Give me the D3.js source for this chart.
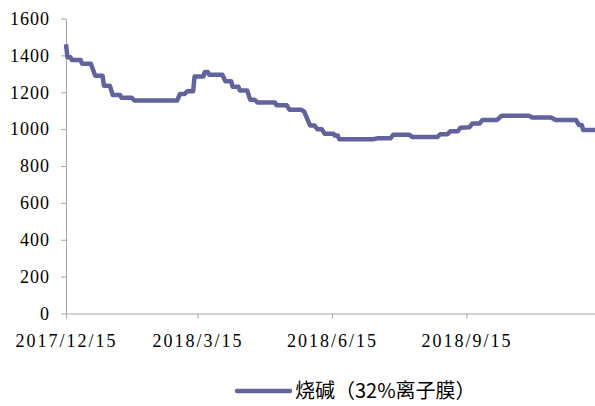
<!DOCTYPE html>
<html>
<head>
<meta charset="utf-8">
<script src="https://cdn.jsdelivr.net/npm/d3@7"></script>
<style>
  body { margin: 0; background: #fff; }
  .tick text { font-family: 'Liberation Serif', 'DejaVu Serif', serif; font-size: 18px; }
</style>
</head>
<body>
<div id="chart"></div>
<script>
// Series data (change points)
const dates = [
    '2017/12/15', '2017/12/16', '2017/12/18', '2017/12/19', '2017/12/25', '2017/12/26',
    '2018/1/1', '2018/1/4', '2018/1/9', '2018/1/10', '2018/1/14', '2018/1/16',
    '2018/1/21', '2018/1/22', '2018/1/29', '2018/1/31', '2018/3/1', '2018/3/3',
    '2018/3/6', '2018/3/8', '2018/3/12', '2018/3/13', '2018/3/19', '2018/3/20',
    '2018/3/22', '2018/3/23', '2018/4/1', '2018/4/3', '2018/4/7', '2018/4/8',
    '2018/4/12', '2018/4/13', '2018/4/18', '2018/4/20', '2018/4/23', '2018/4/25',
    '2018/5/7', '2018/5/8', '2018/5/15', '2018/5/17', '2018/5/25', '2018/5/27',
    '2018/5/31', '2018/6/3', '2018/6/5', '2018/6/8', '2018/6/10', '2018/6/16',
    '2018/6/17', '2018/6/19', '2018/6/20', '2018/7/13', '2018/7/16', '2018/7/25',
    '2018/7/27', '2018/8/7', '2018/8/9', '2018/8/26', '2018/8/28', '2018/9/2',
    '2018/9/4', '2018/9/9', '2018/9/11', '2018/9/17', '2018/9/19', '2018/9/24',
    '2018/9/26', '2018/10/6', '2018/10/9', '2018/10/28', '2018/10/30', '2018/11/12',
    '2018/11/15', '2018/11/29', '2018/12/1', '2018/12/3', '2018/12/4', '2018/12/12'
];
const prices = [
    1460, 1390, 1390, 1375, 1375, 1355,
    1355, 1290, 1290, 1235, 1235, 1185,
    1185, 1170, 1170, 1155, 1155, 1190,
    1190, 1205, 1205, 1285, 1285, 1310,
    1310, 1295, 1295, 1260, 1260, 1230,
    1230, 1210, 1210, 1160, 1160, 1145,
    1145, 1130, 1130, 1105, 1105, 1095,
    1020, 1020, 1000, 1000, 975, 975,
    965, 965, 945, 945, 950, 950,
    970, 970, 957, 957, 972, 972,
    988, 988, 1008, 1010, 1030, 1030,
    1050, 1050, 1072, 1072, 1063, 1063,
    1050, 1050, 1022, 1022, 995, 995
];
const xTickLabels = ['2017/12/15', '2018/3/15', '2018/6/15', '2018/9/15'];
const yTicks = [0, 200, 400, 600, 800, 1000, 1200, 1400, 1600];
const seriesName = '烧碱（32%离子膜）';

const parseDate = d3.timeParse('%Y/%m/%d');
const data = dates.map((d, i) => ({ date: parseDate(d), value: prices[i] }));

const width = 595;
const height = 406;
const lineColor = '#62629c';
const axisColor = '#a6a6a6';

const svg = d3.select('#chart')
    .append('svg')
    .attr('width', width)
    .attr('height', height);

const x = d3.scaleTime()
    .domain([parseDate('2017/12/15'), parseDate('2018/12/12')])
    .range([66, 595]);

const y = d3.scaleLinear()
    .domain([0, 1600])
    .range([313.5, 18.5]);

// y axis
const yAxis = svg.append('g')
    .attr('transform', 'translate(66,0)')
    .call(d3.axisLeft(y)
        .tickValues(yTicks)
        .tickFormat(d3.format('d'))
        .tickSize(5)
        .tickSizeOuter(0)
        .tickPadding(11));

// x axis
const xAxis = svg.append('g')
    .attr('transform', 'translate(0,313.5)')
    .call(d3.axisBottom(x)
        .tickValues(xTickLabels.map(parseDate))
        .tickFormat((d, i) => xTickLabels[i])
        .tickSize(5)
        .tickSizeOuter(0));

[yAxis, xAxis].forEach(g => {
    g.attr('font-family', null).attr('font-size', null);
    g.select('.domain').attr('stroke', axisColor);
    g.selectAll('.tick line').attr('stroke', axisColor);
    g.selectAll('.tick text').attr('fill', '#000');
});
yAxis.selectAll('.tick text').style('letter-spacing', '1px');
xAxis.selectAll('.tick text')
    .attr('y', 33)
    .attr('dy', null)
    .style('letter-spacing', '2px');

// line
const line = d3.line()
    .x(d => x(d.date))
    .y(d => y(d.value));

svg.append('path')
    .datum(data)
    .attr('fill', 'none')
    .attr('stroke', lineColor)
    .attr('stroke-width', 4.5)
    .attr('stroke-linejoin', 'round')
    .attr('d', line);

// legend
const legend = svg.append('g').attr('transform', 'translate(237,391)');
legend.append('line')
    .attr('x1', 0)
    .attr('x2', 53)
    .attr('stroke', lineColor)
    .attr('stroke-width', 4.5)
    .attr('stroke-linecap', 'round');
legend.append('text')
    .attr('x', 58)
    .attr('dy', '0.35em')
    .style('font-family', "'Noto Sans CJK SC', sans-serif")
    .style('font-size', '20px')
    .attr('fill', '#000')
    .text(seriesName);
</script>
</body>
</html>
